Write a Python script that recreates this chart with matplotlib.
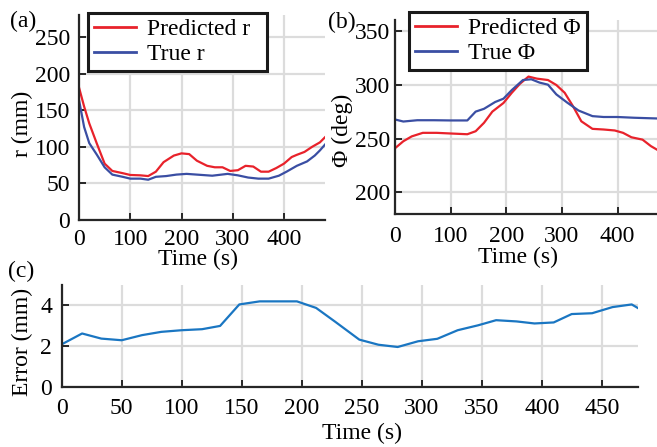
import numpy as np
import matplotlib
matplotlib.use("Agg")
import matplotlib.pyplot as plt

# ---- data ----
t_r_pred = [0, 10, 20, 35, 50, 65, 85, 100, 120, 135, 150, 165, 185, 200, 215, 230,
            250, 265, 280, 295, 310, 325, 340, 355, 370, 385, 400, 415, 425, 440,
            455, 470, 480]
r_pred = [181, 155, 132, 104, 77, 67, 64, 61.5, 61, 60, 66, 79, 88, 91, 90, 81,
          74, 72, 72, 67, 68, 74, 73, 66, 66, 71, 77, 86, 89, 93, 100, 106, 113]

t_r_true = [0, 10, 20, 35, 50, 65, 85, 100, 120, 135, 150, 170, 190, 210, 230, 260,
            290, 310, 330, 350, 370, 390, 405, 425, 445, 460, 470, 480]
r_true = [164, 127, 105, 89, 72, 62, 59, 56.5, 56.5, 55, 59, 60, 62, 63, 62, 60.5,
          63, 61, 58, 56.5, 56.5, 60.5, 66, 74, 80, 88, 95, 103]

t_phi_pred = [0, 15, 30, 50, 75, 100, 130, 145, 160, 175, 195, 210, 225, 240, 255,
              275, 290, 305, 320, 335, 355, 375, 395, 410, 425, 445, 460, 480]
phi_pred = [241, 247.5, 252, 255.3, 255.3, 254.7, 254, 256.8, 264.6, 275, 283, 292.5,
            301, 307.5, 305.6, 304.3, 299.7, 292.5, 280, 266, 259, 258.4, 257.5,
            255.3, 251.2, 249, 243, 237]

t_phi_true = [0, 15, 40, 70, 100, 130, 145, 160, 180, 195, 210, 230, 245, 260, 275,
              290, 310, 330, 355, 375, 400, 430, 480]
phi_true = [267.7, 265.8, 267, 267, 266.8, 266.8, 275, 277.6, 283.9, 287, 295, 304.3,
            305, 301.9, 300, 291, 283.2, 276, 270.8, 270, 270, 269.3, 268.5]

t_err = [0, 17, 33, 50, 67, 83, 100, 117, 132, 148, 165, 180, 196, 212, 228, 248,
         264, 280, 297, 313, 330, 347, 362, 379, 394, 410, 425, 442, 459, 475, 480]
err = [2.10, 2.63, 2.38, 2.30, 2.55, 2.71, 2.79, 2.84, 3.0, 4.05, 4.2, 4.2, 4.2, 3.88,
       3.2, 2.33, 2.08, 1.97, 2.25, 2.37, 2.79, 3.03, 3.28, 3.22, 3.12, 3.17, 3.58,
       3.62, 3.92, 4.05, 3.88]

RED = "#e8222b"
BLUE = "#3a4ea3"
ERR = "#1a76c2"
FS = 17

plt.rcParams["font.family"] = ["Liberation Serif", "DejaVu Serif"]
plt.rcParams["font.size"] = FS

W, H = 657, 447
fig = plt.figure(figsize=(W / 100, H / 100), dpi=100)


def px_axes(left, top, right, bottom):
    return fig.add_axes([left / W, 1 - bottom / H, (right - left) / W, (bottom - top) / H])


def style(ax, xpad, ypad):
    for s in ["top", "right"]:
        ax.spines[s].set_visible(False)
    for s in ["left", "bottom"]:
        ax.spines[s].set_linewidth(1.6)
        ax.spines[s].set_color("#262626")
    ax.grid(True, color="#dcdcdc", linewidth=1.6)
    ax.set_axisbelow(True)
    ax.tick_params(axis="x", direction="in", length=5, width=1.4, color="#262626",
                   labelsize=FS, pad=xpad)
    ax.tick_params(axis="y", direction="in", length=5, width=1.4, color="#262626",
                   labelsize=FS, pad=ypad)


def place_labels(ax, xlab, xc, ylab, yc):
    # label centres given in figure pixels
    ax.set_xlabel(xlab)
    ax.set_ylabel(ylab)
    ax.xaxis.set_label_coords(xc[0] / W, 1 - xc[1] / H, transform=fig.transFigure)
    ax.yaxis.set_label_coords(yc[0] / W, 1 - yc[1] / H, transform=fig.transFigure)
    ax.xaxis.label.set_va("center")
    ax.yaxis.label.set_va("center")


def legend(ax, x0, x1, y0, y1):
    leg = ax.legend(loc="upper left",
                    bbox_to_anchor=(x0 / W, 1 - y1 / H, (x1 - x0) / W, (y1 - y0) / H),
                    bbox_transform=fig.transFigure, mode="expand", fancybox=False,
                    framealpha=1, edgecolor="#1a1a1a", fontsize=FS, handlelength=1.8,
                    handletextpad=0.45, borderpad=0.25, labelspacing=0.12,
                    borderaxespad=0)
    leg.get_frame().set_linewidth(2.2)
    for ln in leg.get_lines():
        ln.set_linewidth(2.0)


# (a) radius
ax_a = px_axes(79, 15, 325, 220)
ax_a.plot(t_r_pred, r_pred, color=RED, lw=1.6, label="Predicted r")
ax_a.plot(t_r_true, r_true, color=BLUE, lw=1.6, label="True r")
ax_a.set_xlim(0, 480)
ax_a.set_ylim(0, 280)
ax_a.set_xticks([0, 100, 200, 300, 400])
ax_a.set_yticks([0, 50, 100, 150, 200, 250])
style(ax_a, 6.3, 6.5)
place_labels(ax_a, "Time (s)", (198, 259), "r (mm)", (22, 124))
legend(ax_a, 88, 267, 13, 69)

# (b) angle
ax_b = px_axes(395, 20, 662, 214)
ax_b.plot(t_phi_pred, phi_pred, color=RED, lw=1.6, label="Predicted \u03a6")
ax_b.plot(t_phi_true, phi_true, color=BLUE, lw=1.6, label="True \u03a6")
ax_b.set_xlim(0, 480)
ax_b.set_ylim(180, 360)
ax_b.set_xticks([0, 100, 200, 300, 400])
ax_b.set_yticks([200, 250, 300, 350])
style(ax_b, 9, 3.6)
place_labels(ax_b, "Time (s)", (518, 257), "\u03a6 (deg)", (342, 130))
legend(ax_b, 409, 587, 12, 67)

# (c) error
ax_c = px_axes(61.7, 285, 637.7, 387.3)
ax_c.plot(t_err, err, color=ERR, lw=1.6)
ax_c.set_xlim(0, 480)
ax_c.set_ylim(0, 5)
ax_c.set_xticks(np.arange(0, 451, 50))
ax_c.set_yticks([0, 2, 4])
style(ax_c, 7.7, 7)
place_labels(ax_c, "Time (s)", (362, 433), "Error (mm)", (22, 342))

fig.text(10 / W, 1 - 21 / H, "(a)", ha="left", va="center", fontsize=FS)
fig.text(328 / W, 1 - 22 / H, "(b)", ha="left", va="center", fontsize=FS)
fig.text(8 / W, 1 - 271 / H, "(c)", ha="left", va="center", fontsize=FS)

fig.savefig("out.png", dpi=100)
